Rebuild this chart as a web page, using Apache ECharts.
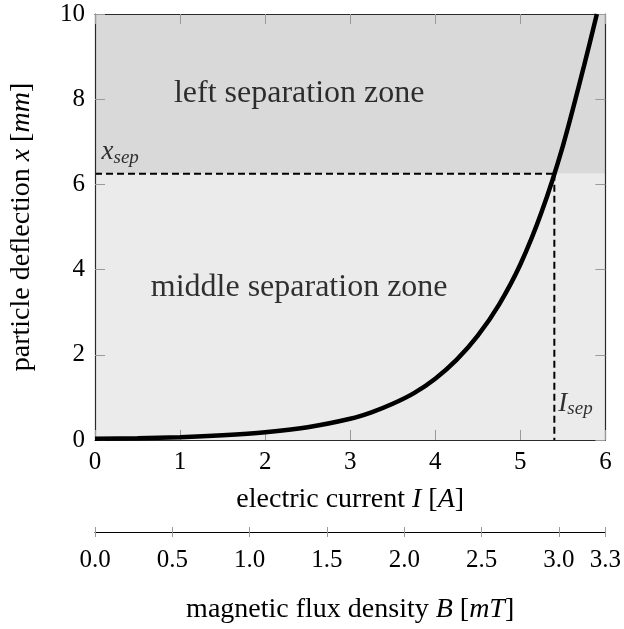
<!DOCTYPE html>
<html>
<head>
<meta charset="utf-8">
<script src="https://cdn.jsdelivr.net/npm/echarts@6/dist/echarts.min.js"></script>
<style>
  html, body { margin: 0; padding: 0; background: #fff; }
  #chart { width: 624px; height: 629px; }
</style>
</head>
<body>
<div id="chart"></div>
<script>
// Deflection curve x(I), sampled at these currents
const currentI = [0, 0.5, 1, 1.5, 2, 2.5, 3, 3.25, 3.5, 3.75, 4, 4.25, 4.5, 4.75, 5, 5.25, 5.5, 5.75, 5.9];
const deflection = [0.03, 0.04, 0.065, 0.11, 0.18, 0.30, 0.50, 0.65, 0.85, 1.10, 1.44, 1.88, 2.45, 3.18, 4.12, 5.35, 6.90, 8.79, 10.0];

// Separation threshold and the current where the curve reaches it
const xSep = 6.25;
const iSep = 5.4;

// Axis ranges
const currentRange = [0, 6];
const deflectionRange = [0, 10];
const fluxRange = [0, 3.3];

// Zone captions
const zoneNames = ['left separation zone', 'middle separation zone'];
const zoneAnchors = [[2.4, 8.13], [2.4, 3.58]];

const FONT = '"Liberation Serif", "DejaVu Serif", serif';
const TICK_GRAY = '#9a9a9a';
const FRAME = '#2a2a2a';

const chart = echarts.init(document.getElementById('chart'), null, { renderer: 'canvas' });

const curveData = currentI.map((v, i) => [v, deflection[i]]);

const frameAxis = (extra) => Object.assign({
  type: 'value',
  gridIndex: 0,
  z: 5,
  splitLine: { show: false },
  axisLine: { show: true, onZero: false, lineStyle: { color: FRAME, width: 1.2 } },
  axisTick: { show: true, inside: true, length: 10, lineStyle: { color: TICK_GRAY, width: 1 } },
  axisLabel: { show: false }
}, extra);

const rich = {
  it: { fontFamily: FONT, fontStyle: 'italic', fontSize: 28, color: '#000' },
  rm: { fontFamily: FONT, fontSize: 28, color: '#000' }
};

const option = {
  animation: false,
  backgroundColor: '#fff',
  grid: { left: 86, right: 17, top: 14, bottom: 182, containLabel: false },
  xAxis: [
    frameAxis({
      position: 'bottom',
      min: currentRange[0], max: currentRange[1], interval: 1,
      axisLabel: { show: true, margin: 10, fontFamily: FONT, fontSize: 25, color: '#000' },
      name: '{rm|electric current }{it|I}{rm| [}{it|A}{rm|]}',
      nameLocation: 'middle',
      nameGap: 46,
      nameTextStyle: { rich: rich }
    }),
    frameAxis({ position: 'top', min: currentRange[0], max: currentRange[1], interval: 1 }),
    // secondary scale: ticks below the line
    {
      type: 'value', gridIndex: 0, position: 'bottom', offset: 92,
      min: fluxRange[0], max: fluxRange[1], interval: 0.5,
      splitLine: { show: false },
      axisLine: { show: true, onZero: false, lineStyle: { color: '#000', width: 1.2 } },
      axisTick: { show: true, inside: false, length: 5, lineStyle: { color: TICK_GRAY, width: 1 } },
      axisLabel: {
        show: true, margin: 16, fontFamily: FONT, fontSize: 25, color: '#000',
        formatter: v => v.toFixed(1)
      },
      name: '{rm|magnetic flux density }{it|B}{rm| [}{it|mT}{rm|]}',
      nameLocation: 'middle',
      nameGap: 64,
      nameTextStyle: { rich: rich }
    },
    // secondary scale: ticks above the line
    {
      type: 'value', gridIndex: 0, position: 'bottom', offset: 92,
      min: fluxRange[0], max: fluxRange[1], interval: 0.5,
      splitLine: { show: false },
      axisLine: { show: false, onZero: false },
      axisTick: { show: true, inside: true, length: 5, lineStyle: { color: TICK_GRAY, width: 1 } },
      axisLabel: { show: false }
    }
  ],
  yAxis: [
    frameAxis({
      position: 'left',
      min: deflectionRange[0], max: deflectionRange[1], interval: 2,
      axisLabel: { show: true, margin: 10, fontFamily: FONT, fontSize: 25, color: '#000' },
      name: '{rm|particle deflection }{it|x}{rm| [}{it|mm}{rm|]}',
      nameLocation: 'middle',
      nameGap: 59,
      nameRotate: 90,
      nameTextStyle: { rich: rich }
    }),
    frameAxis({ position: 'right', min: deflectionRange[0], max: deflectionRange[1], interval: 2 })
  ],
  series: [
    {
      name: 'zones',
      type: 'line',
      xAxisIndex: 0, yAxisIndex: 0,
      data: [],
      silent: true,
      z: 0,
      markArea: {
        silent: true,
        data: [
          [{ xAxis: currentRange[0], yAxis: xSep, itemStyle: { color: '#d9d9d9' } },
           { xAxis: currentRange[1], yAxis: deflectionRange[1] }],
          [{ xAxis: currentRange[0], yAxis: deflectionRange[0], itemStyle: { color: '#ebebeb' } },
           { xAxis: currentRange[1], yAxis: xSep }]
        ]
      }
    },
    {
      name: 'x_sep',
      type: 'line',
      xAxisIndex: 0, yAxisIndex: 0,
      data: [[currentRange[0], xSep], [iSep, xSep]],
      symbol: 'none',
      lineStyle: { color: '#000', width: 2, type: [7, 4] },
      z: 3, silent: true
    },
    {
      name: 'I_sep',
      type: 'line',
      xAxisIndex: 0, yAxisIndex: 0,
      data: [[iSep, xSep], [iSep, deflectionRange[0]]],
      symbol: 'none',
      lineStyle: { color: '#000', width: 2, type: [7, 4] },
      z: 3, silent: true
    },
    {
      name: 'deflection',
      type: 'line',
      xAxisIndex: 0, yAxisIndex: 0,
      data: curveData,
      smooth: 0.3,
      symbol: 'none',
      clip: true,
      lineStyle: { color: '#000', width: 4.5 },
      z: 6, silent: true
    },
    {
      name: 'zone labels',
      type: 'scatter',
      xAxisIndex: 0, yAxisIndex: 0,
      symbolSize: 0,
      silent: true,
      z: 7,
      data: zoneNames.map((n, i) => ({ name: n, value: zoneAnchors[i] })),
      label: {
        show: true, position: 'inside',
        formatter: p => p.name,
        fontFamily: FONT, fontSize: 32, color: '#000'
      }
    },
    {
      name: 'sep labels',
      type: 'scatter',
      xAxisIndex: 0, yAxisIndex: 0,
      symbolSize: 0,
      silent: true,
      z: 7,
      data: [
        { value: [0.1, xSep + 0.15], label: { formatter: '{m|x}{s|sep}', position: 'right', offset: [-7, -15] } },
        { value: [iSep, 0.85], label: { formatter: '{m|I}{s|sep}', position: 'right', offset: [-1, 0] } }
      ],
      label: {
        show: true,
        rich: {
          m: { fontFamily: FONT, fontStyle: 'italic', fontSize: 27, color: '#000', lineHeight: 30, verticalAlign: 'middle' },
          s: { fontFamily: FONT, fontStyle: 'italic', fontSize: 19, color: '#000', lineHeight: 30, verticalAlign: 'bottom', padding: [14, 0, 0, 0] }
        }
      }
    }
  ]
};

chart.setOption(option);
</script>
</body>
</html>
